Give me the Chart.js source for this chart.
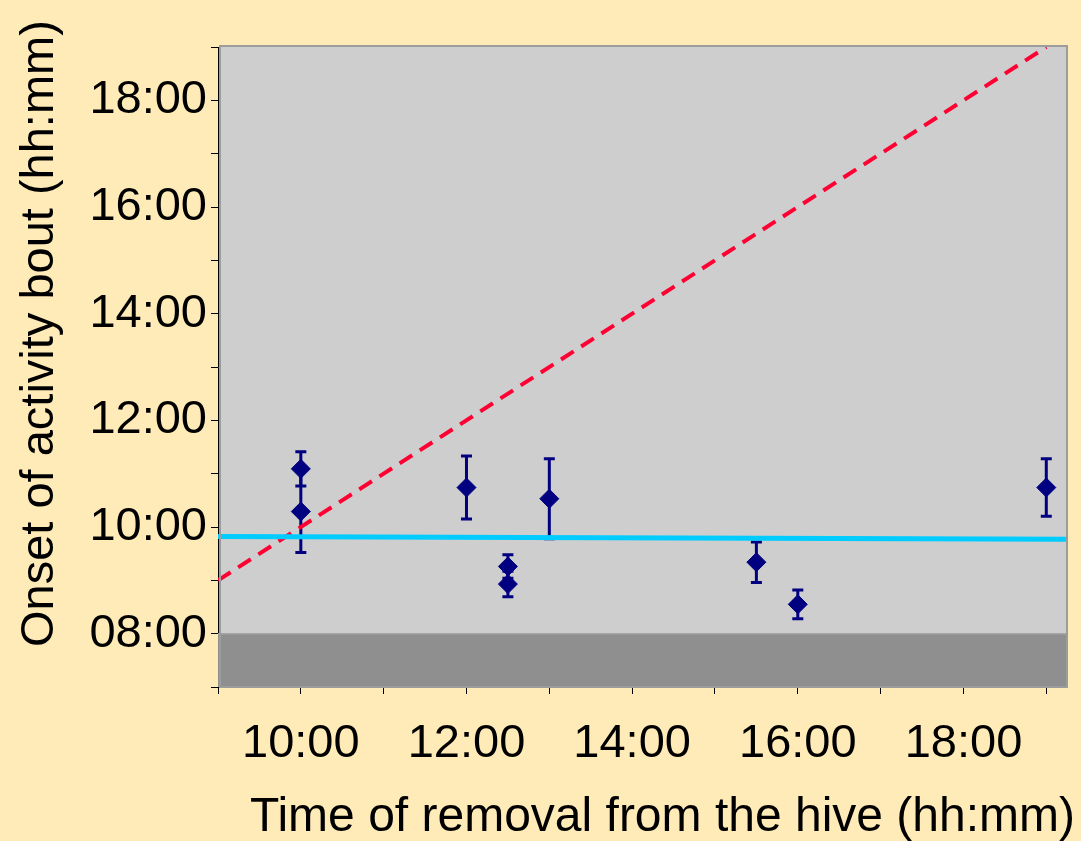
<!DOCTYPE html>
<html>
<head>
<meta charset="utf-8">
<script src="https://cdn.jsdelivr.net/npm/chart.js@4.4.1/dist/chart.umd.min.js"></script>
<style>
  html, body { margin: 0; padding: 0; background: #FFEBB8; }
  #wrap { width: 1081px; height: 841px; }
</style>
</head>
<body>
<div id="wrap"><canvas id="chart"></canvas></div>
<script>
// all times in decimal hours
const removalTimes = [10, 10, 12, 12.5, 12.5, 13, 15.5, 16, 19];
const onsetTimes   = [11.09, 10.29, 10.74, 9.26, 8.93, 10.53, 9.34, 8.55, 10.74];
const onsetErrors  = [0.32, 0.77, 0.59, 0.22, 0.24, 0.75, 0.38, 0.27, 0.54];

// y = x reference line (dashed red)
const identityX = [9, 19];
const identityY = [9, 19];

// fitted trend line (cyan)
const trendX = [9, 19.25];
const trendY = [9.82, 9.77];

// dark band below 08:00
const bandX = [9, 19.25];
const bandY = [8, 8];

const xTickLabels = { 10: '10:00', 12: '12:00', 14: '14:00', 16: '16:00', 18: '18:00' };
const yTickLabels = { 8: '08:00', 10: '10:00', 12: '12:00', 14: '14:00', 16: '16:00', 18: '18:00' };

const xTitle = 'Time of removal from the hive (hh:mm)';
const yTitle = 'Onset of activity bout (hh:mm)';

const FONT = "'Liberation Sans', Arial, sans-serif";

const pairs = (xs, ys) => xs.map((x, i) => ({ x: x, y: ys[i] }));

// plot area backgrounds + frame
const plotBg = {
    id: 'plotBg',
    beforeDraw(chart) {
        const { ctx, chartArea: a } = chart;
        ctx.save();
        ctx.fillStyle = '#FFEBB8';
        ctx.fillRect(0, 0, chart.width, chart.height);
        ctx.fillStyle = '#CECECE';
        ctx.fillRect(a.left, a.top, a.right - a.left, a.bottom - a.top);
        ctx.restore();
    },
    afterDatasetsDraw(chart) {
        const { ctx, chartArea: a } = chart;
        ctx.save();
        ctx.strokeStyle = '#9C9C9C';
        ctx.lineWidth = 2;
        ctx.strokeRect(a.left + 2, a.top - 1, a.right - a.left - 2, a.bottom - a.top + 1);
        ctx.restore();
    }
};

// vertical error bars for the scatter points
const errorBars = {
    id: 'errorBars',
    beforeDatasetsDraw(chart) {
        const { ctx, scales: { x, y } } = chart;
        ctx.save();
        ctx.strokeStyle = '#000080';
        ctx.lineWidth = 3;
        removalTimes.forEach((t, i) => {
            const px = x.getPixelForValue(t);
            const top = y.getPixelForValue(onsetTimes[i] + onsetErrors[i]);
            const bot = y.getPixelForValue(onsetTimes[i] - onsetErrors[i]);
            ctx.beginPath();
            ctx.moveTo(px, top); ctx.lineTo(px, bot);
            ctx.moveTo(px - 5.5, top); ctx.lineTo(px + 5.5, top);
            ctx.moveTo(px - 5.5, bot); ctx.lineTo(px + 5.5, bot);
            ctx.stroke();
        });
        ctx.restore();
    }
};

// axis titles, placed like the original figure
const axisTitles = {
    id: 'axisTitles',
    afterDraw(chart) {
        const ctx = chart.ctx;
        ctx.save();
        ctx.fillStyle = '#000';
        ctx.textBaseline = 'alphabetic';
        ctx.font = '48px ' + FONT;
        ctx.textAlign = 'right';
        ctx.fillText(xTitle, 1075, 831);
        ctx.translate(53, 647);
        ctx.rotate(-Math.PI / 2);
        ctx.font = '47px ' + FONT;
        ctx.textAlign = 'left';
        ctx.fillText(yTitle, 0, 0);
        ctx.restore();
    }
};

new Chart(document.getElementById('chart'), {
    type: 'scatter',
    data: {
        datasets: [{
            label: 'Onset',
            data: pairs(removalTimes, onsetTimes),
            pointStyle: 'rectRot',
            pointRadius: 9.5,
            pointHoverRadius: 9.5,
            backgroundColor: '#000080',
            borderColor: '#000080',
            borderWidth: 1,
            order: 0
        }, {
            label: 'Trend',
            data: pairs(trendX, trendY),
            showLine: true,
            borderColor: '#00CCFF',
            borderWidth: 5,
            pointRadius: 0,
            order: 1
        }, {
            label: 'Identity',
            data: pairs(identityX, identityY),
            showLine: true,
            borderColor: '#FF0033',
            borderWidth: 4,
            borderDash: [15, 9],
            pointRadius: 0,
            order: 2
        }, {
            label: 'Night',
            data: pairs(bandX, bandY),
            showLine: true,
            borderColor: '#A5A5A5',
            borderWidth: 1.5,
            backgroundColor: '#8F8F8F',
            fill: 'start',
            pointRadius: 0,
            order: 3
        }]
    },
    options: {
        responsive: true,
        maintainAspectRatio: false,
        animation: false,
        events: [],
        layout: { padding: { top: 47, right: 14, left: 0, bottom: 0 } },
        plugins: { legend: { display: false }, tooltip: { enabled: false } },
        scales: {
            x: {
                type: 'linear',
                min: 9,
                max: 19.25,
                ticks: {
                    stepSize: 1,
                    includeBounds: false,
                    autoSkip: false,
                    maxRotation: 0,
                    padding: 22,
                    color: '#000',
                    font: { family: FONT, size: 47 },
                    callback: v => xTickLabels[v] || ''
                },
                grid: { drawOnChartArea: false, drawTicks: true, tickLength: 7, color: '#000', lineWidth: 1 },
                border: { display: true, color: '#000', width: 1 },
                afterFit(scale) { scale.height = 154; }
            },
            y: {
                type: 'linear',
                min: 7,
                max: 19,
                ticks: {
                    stepSize: 1,
                    autoSkip: false,
                    padding: 4,
                    color: '#000',
                    font: { family: FONT, size: 47 },
                    callback: v => yTickLabels[v] || ''
                },
                grid: { drawOnChartArea: false, drawTicks: true, tickLength: 7, color: '#000', lineWidth: 1 },
                border: { display: true, color: '#000', width: 1 },
                afterFit(scale) { scale.width = 218; }
            }
        }
    },
    plugins: [plotBg, errorBars, axisTitles]
});
</script>
</body>
</html>
